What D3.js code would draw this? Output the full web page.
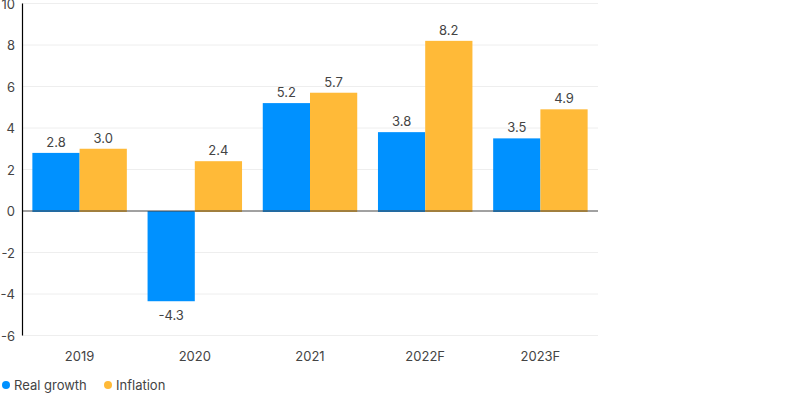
<!DOCTYPE html>
<html><head><meta charset="utf-8">
<script src="https://cdn.jsdelivr.net/npm/d3@7"></script>
<style>body{margin:0;background:#fff;}svg{display:block;font-family:Inter,"Noto Sans",sans-serif;}</style>
</head><body><div id="chart"></div>
<script>
const categories = ["2019","2020","2021","2022F","2023F"];
const seriesNames = ["Real growth","Inflation"];
const realGrowth = [2.8,-4.3,5.2,3.8,3.5];
const inflation = [3.0,2.4,5.7,8.2,4.9];
const yTicks = [-6,-4,-2,0,2,4,6,8,10];
const colors = ["#0091FF","#FFBA38"];

const W=800,H=395;
const m={left:22,right:202,top:3.5,bottom:59.5};
const svg=d3.select("#chart").append("svg").attr("width",W).attr("height",H);
const y=d3.scaleLinear().domain([-6,10]).range([H-m.bottom,m.top]);
const x=d3.scaleBand().domain(categories).range([m.left,W-m.right]).paddingInner(0.18).paddingOuter(0.09);
const xs=d3.scaleBand().domain(seriesNames).range([0,x.bandwidth()]);

svg.append("g").selectAll("line").data(yTicks.filter(d=>d!==0)).join("line")
 .attr("x1",m.left).attr("x2",W-m.right).attr("y1",d=>y(d)).attr("y2",d=>y(d))
 .attr("stroke","#eeeeee").attr("stroke-width",1);

const data=categories.map((c,i)=>({c,vals:[realGrowth[i],inflation[i]]}));
const g=svg.append("g").selectAll("g").data(data).join("g").attr("transform",d=>`translate(${x(d.c)},0)`);
g.selectAll("rect").data(d=>d.vals.map((v,j)=>({v,j}))).join("rect")
 .attr("x",d=>xs(seriesNames[d.j])).attr("width",xs.bandwidth())
 .attr("y",d=>Math.min(y(d.v),y(0))).attr("height",d=>Math.abs(y(d.v)-y(0))+1)
 .attr("fill",d=>colors[d.j]);
g.selectAll("text").data(d=>d.vals.map((v,j)=>({v,j}))).join("text")
 .attr("x",d=>xs(seriesNames[d.j])+xs.bandwidth()/2)
 .attr("y",d=>d.v>=0?y(d.v)-6:y(d.v)+20)
 .attr("text-anchor","middle").attr("font-size",13).attr("fill","#444")
 .text(d=>d.v.toFixed(1));

svg.append("line").attr("x1",m.left).attr("x2",W-m.right).attr("y1",y(0)).attr("y2",y(0)).attr("stroke","#444").attr("stroke-width",1);
svg.append("line").attr("x1",m.left+0.5).attr("x2",m.left+0.5).attr("y1",y(10)).attr("y2",y(-6)).attr("stroke","#000").attr("stroke-width",1.2);

svg.append("g").selectAll("text").data(yTicks).join("text")
 .attr("x",m.left-7).attr("y",d=>y(d)+5).attr("text-anchor","end").attr("font-size",13).attr("fill","#444").text(d=>d);

svg.append("g").selectAll("text").data(categories).join("text")
 .attr("x",d=>x(d)+x.bandwidth()/2).attr("y",y(-6)+25).attr("text-anchor","middle").attr("font-size",13).attr("fill","#444").text(d=>d);

const leg=svg.append("g").attr("transform","translate(0,385)");
const lx=[6,108];
seriesNames.forEach((s,i)=>{
 leg.append("circle").attr("cx",lx[i]).attr("cy",0).attr("r",4).attr("fill",colors[i]);
 leg.append("text").attr("x",lx[i]+8).attr("y",5).attr("font-size",13).attr("fill","#444").text(s);
});
</script></body></html>
